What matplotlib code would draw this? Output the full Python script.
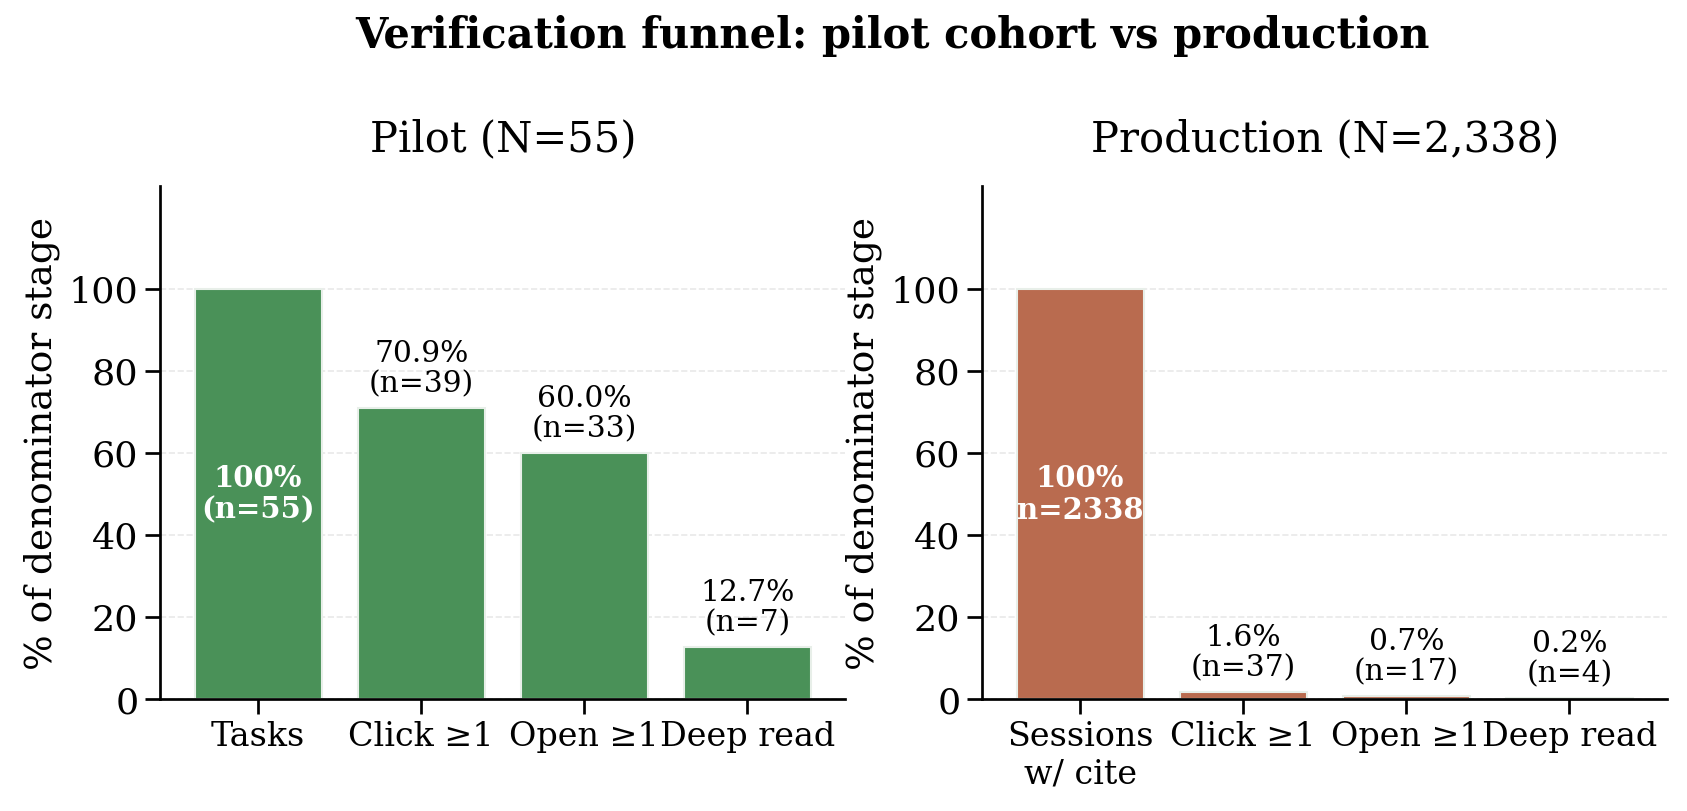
import matplotlib
matplotlib.use("Agg")
import matplotlib.pyplot as plt

plt.rcParams['font.family'] = ['DejaVu Serif']

pilot_stages = ["Tasks", "Click ≥1", "Open ≥1", "Deep read"]
pilot_counts = [55, 39, 33, 7]
pilot_pct = [100.0, 70.9, 60.0, 12.7]

prod_stages = ["Sessions\nw/ cite", "Click ≥1", "Open ≥1", "Deep read"]
prod_counts = [2338, 37, 17, 4]
prod_pct = [100.0, 1.6, 0.7, 0.2]

green = "#4a9158"
rust = "#b96b4f"

fig, axes = plt.subplots(1, 2, figsize=(11.25, 5.41), dpi=150)
fig.subplots_adjust(left=0.095, right=0.988, top=0.77, bottom=0.138, wspace=0.2)
fig.suptitle("Verification funnel: pilot cohort vs production", fontsize=20,
             fontweight='bold', x=0.529, y=0.982)

def draw(ax, stages, pct, counts, color, title, first_label):
    x = list(range(len(stages)))
    ax.bar(x, pct, width=0.78, color=color, edgecolor="#e8efe9", linewidth=1.0, zorder=2)
    ax.set_xticks(x)
    ax.set_xticklabels(stages, fontsize=16)
    ax.set_ylim(0, 125)
    ax.set_yticks([0, 20, 40, 60, 80, 100])
    ax.tick_params(axis='y', labelsize=17.5, length=7, width=1.3)
    ax.tick_params(axis='x', length=7, width=1.3)
    ax.set_ylabel("% of denominator stage", fontsize=18)
    ax.set_title(title, fontsize=20, pad=17)
    ax.spines['top'].set_visible(False)
    ax.spines['right'].set_visible(False)
    ax.spines['left'].set_linewidth(1.3)
    ax.spines['bottom'].set_linewidth(1.3)
    ax.grid(axis='y', linestyle='--', color='#e9e9e9', linewidth=0.8, zorder=0)
    ax.set_axisbelow(True)
    ax.set_xlim(-0.6, 3.6)
    for i, (p, c) in enumerate(zip(pct, counts)):
        if i == 0:
            ax.text(i, 50, first_label, ha='center', va='center', color='white',
                    fontweight='bold', fontsize=14, linespacing=1.1)
        else:
            ax.text(i, p + 2.5, f"{p:.1f}%\n(n={c})", ha='center', va='bottom',
                    fontsize=14.3, linespacing=1.1)

draw(axes[0], pilot_stages, pilot_pct, pilot_counts, green, "Pilot (N=55)",
     "100%\n(n=55)")
draw(axes[1], prod_stages, prod_pct, prod_counts, rust, "Production (N=2,338)",
     "100%\nn=2338")

fig.savefig("out.png", dpi=150)
